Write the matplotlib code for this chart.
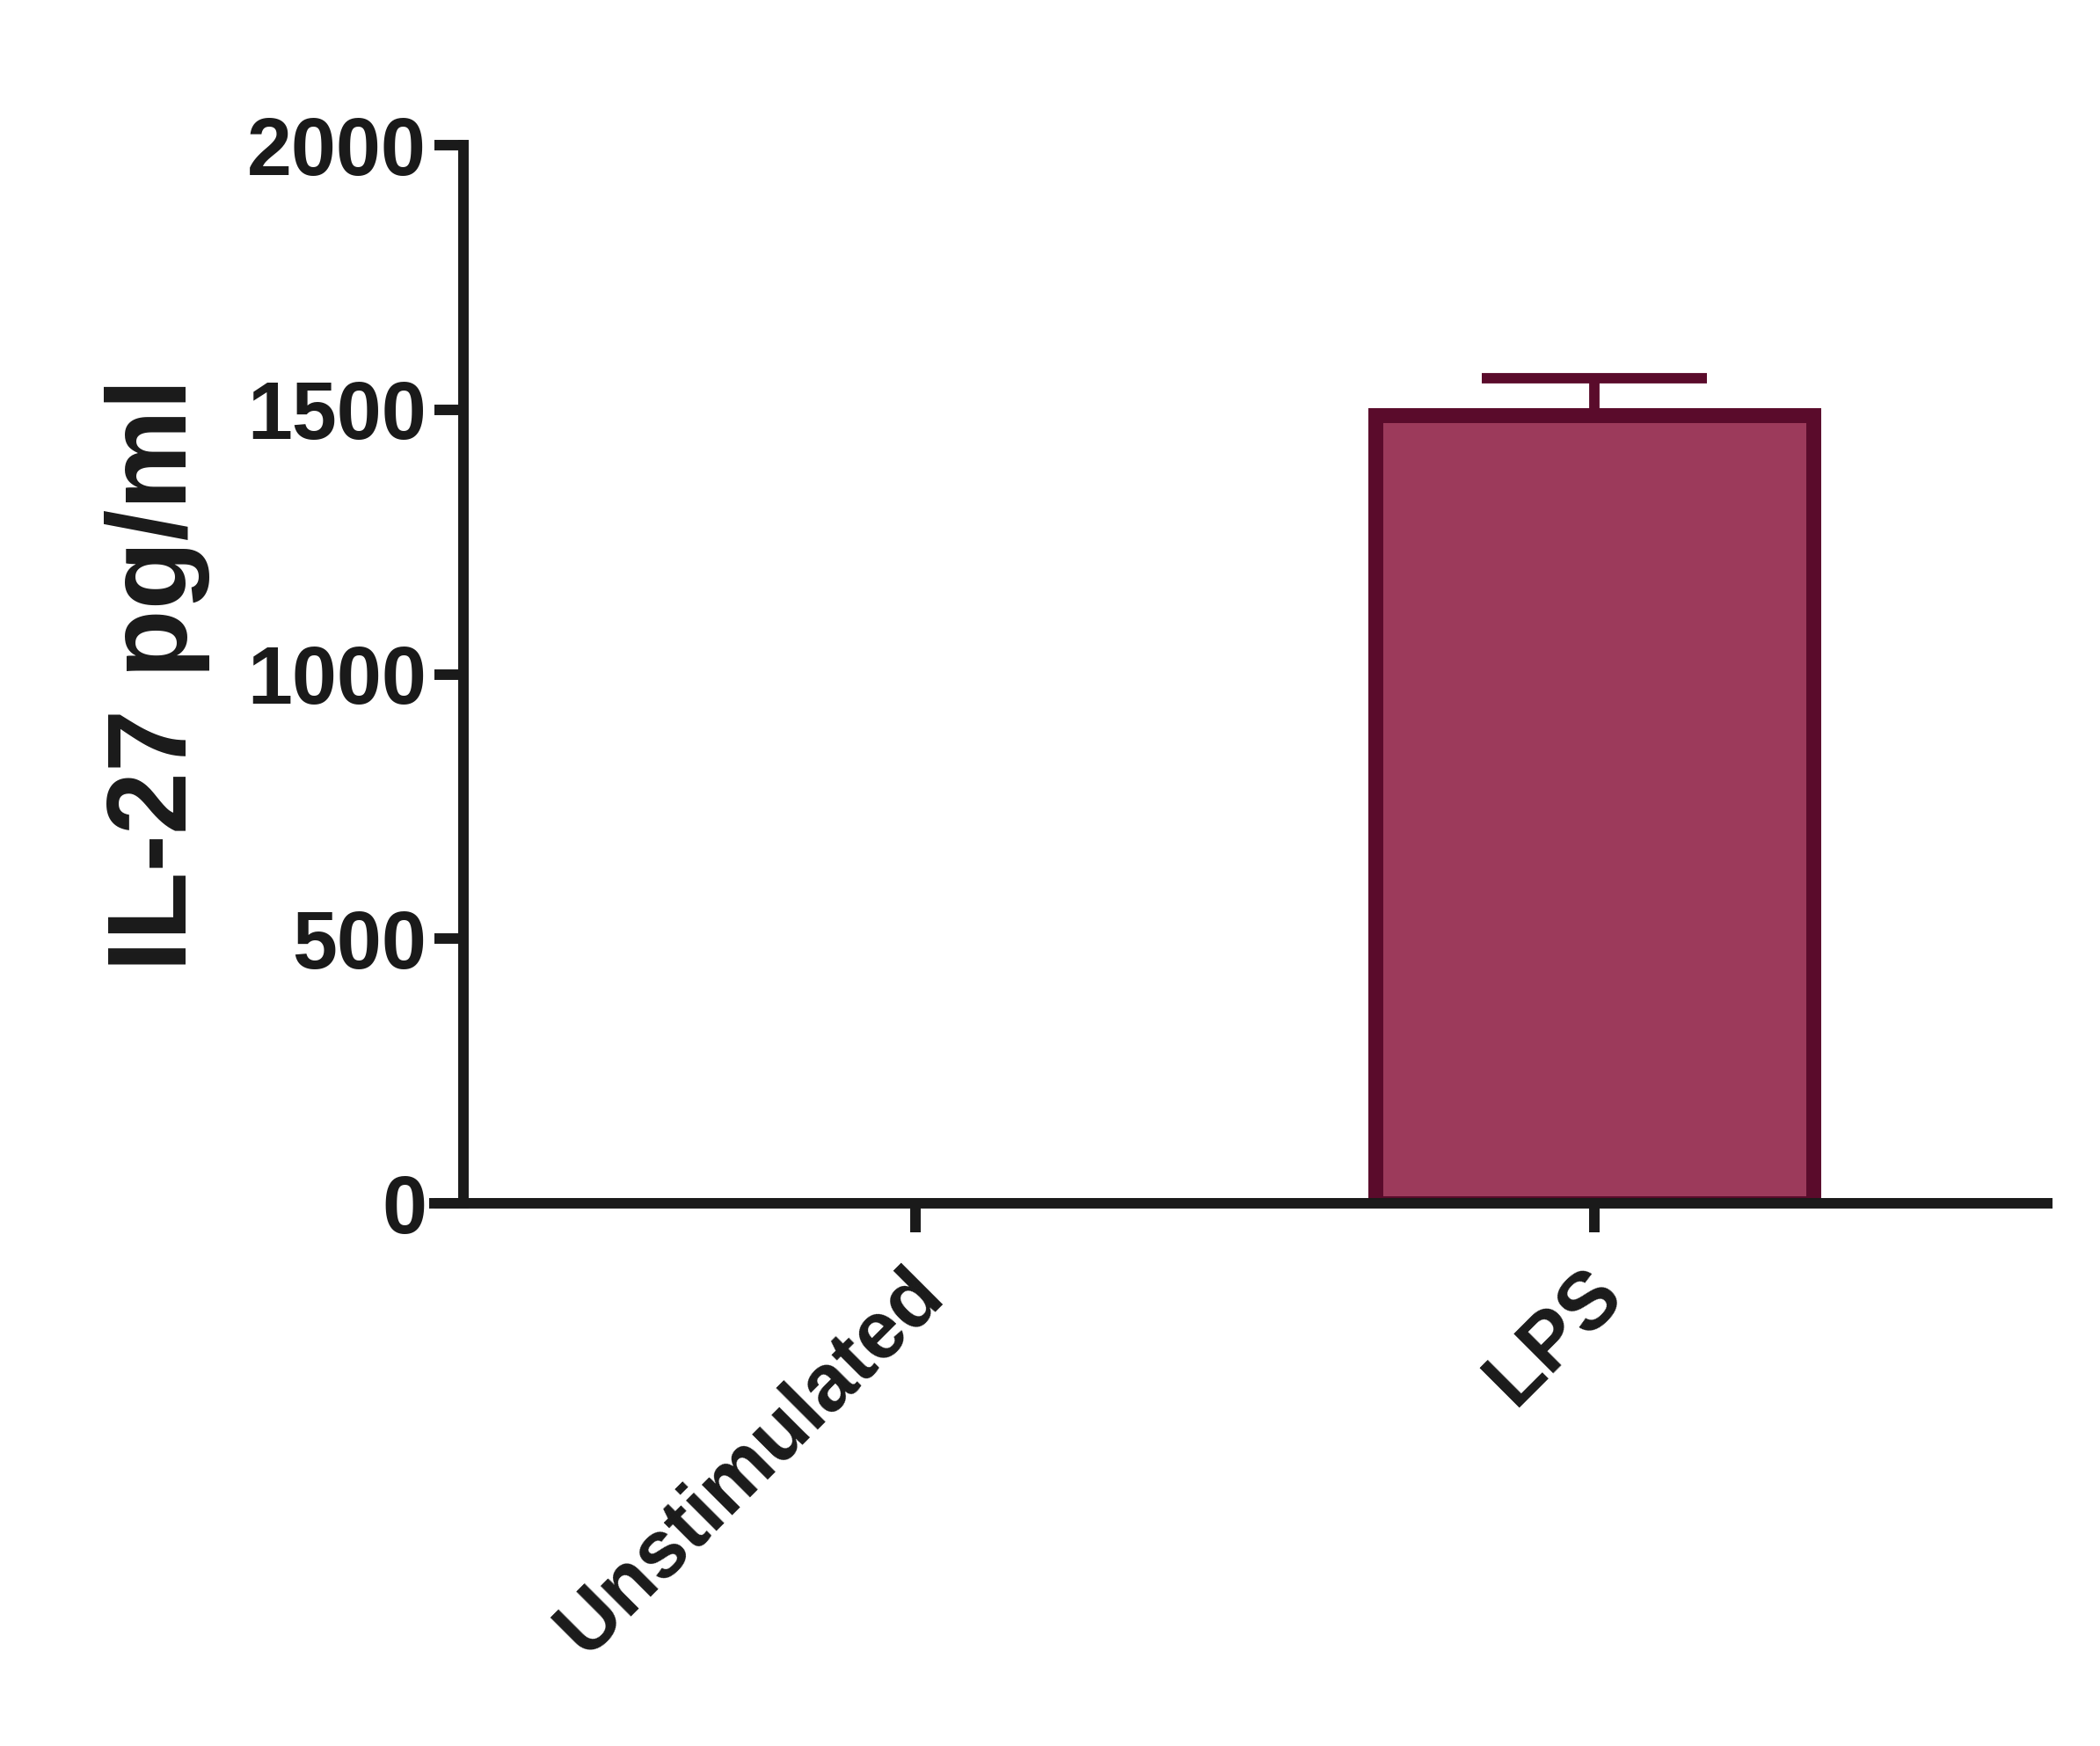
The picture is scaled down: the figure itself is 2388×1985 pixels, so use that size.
import numpy as np
import matplotlib
matplotlib.use("Agg")
import matplotlib.pyplot as plt
from matplotlib.transforms import ScaledTranslation

categories = ["Unstimulated", "LPS"]
means = [0, 1490]
sems = [0, 70]
y_ticks = [0, 500, 1000, 1500, 2000]
y_label = "IL-27 pg/ml"

plt.rcParams['font.family'] = ['Liberation Sans', 'DejaVu Sans']
plt.rcParams['font.weight'] = 'bold'

W, H = 2388, 1985
fig = plt.figure(figsize=(W / 100, H / 100), dpi=100)
ax_l, ax_r = 494, 2328
ax_top, ax_bot = 165, 1368
ax = fig.add_axes([ax_l / W, 1 - ax_bot / H, (ax_r - ax_l) / W, (ax_bot - ax_top) / H])

dark = '#1a1a1a'
fill = '#9c3a5b'
edge = '#5a0b2b'

x = np.arange(len(categories))
m = np.array(means, dtype=float)
s = np.array(sems, dtype=float)

for sp in ['top', 'right']:
    ax.spines[sp].set_visible(False)
ax.spines['left'].set_position(('data', -0.666))
for sp in ['left', 'bottom']:
    ax.spines[sp].set_linewidth(8.6)
    ax.spines[sp].set_color(dark)
    ax.spines[sp].set_zorder(3)

lw = [12.2 if v > 0 else 0 for v in m]
ax.bar(x, m, width=0.644, color=fill, edgecolor=edge, linewidth=lw, zorder=2)
mask = s > 0
ax.errorbar(x[mask], m[mask], yerr=[np.zeros(mask.sum()), s[mask]], fmt='none',
            ecolor=edge, elinewidth=8.5, capsize=92, capthick=8.5, zorder=1)

ax.set_xlim(-0.7085, 1.667)
ax.set_ylim(0, 2000)
ax.set_yticks(y_ticks)
ax.set_yticklabels([str(t) for t in y_ticks], fontsize=66, fontweight='bold', color=dark)
ax.set_xticks(x)
ax.set_xticklabels(categories, fontsize=66, fontweight='bold', color=dark,
                   rotation=45, ha='right', va='top', rotation_mode='anchor')

ax.tick_params(axis='both', length=24, width=8.6, color=dark)
ax.tick_params(axis='y', pad=6)
ax.tick_params(axis='x', pad=18)

off = ScaledTranslation(-12 / 100, 0 / 100, fig.dpi_scale_trans)
for lab in ax.get_xticklabels():
    lab.set_transform(lab.get_transform() + off)

ax.set_ylabel(y_label, fontsize=92, fontweight='bold', color=dark)
ax.yaxis.set_label_coords(-0.139, 0.5)

fig.savefig('out.png', dpi=100, facecolor='white')
